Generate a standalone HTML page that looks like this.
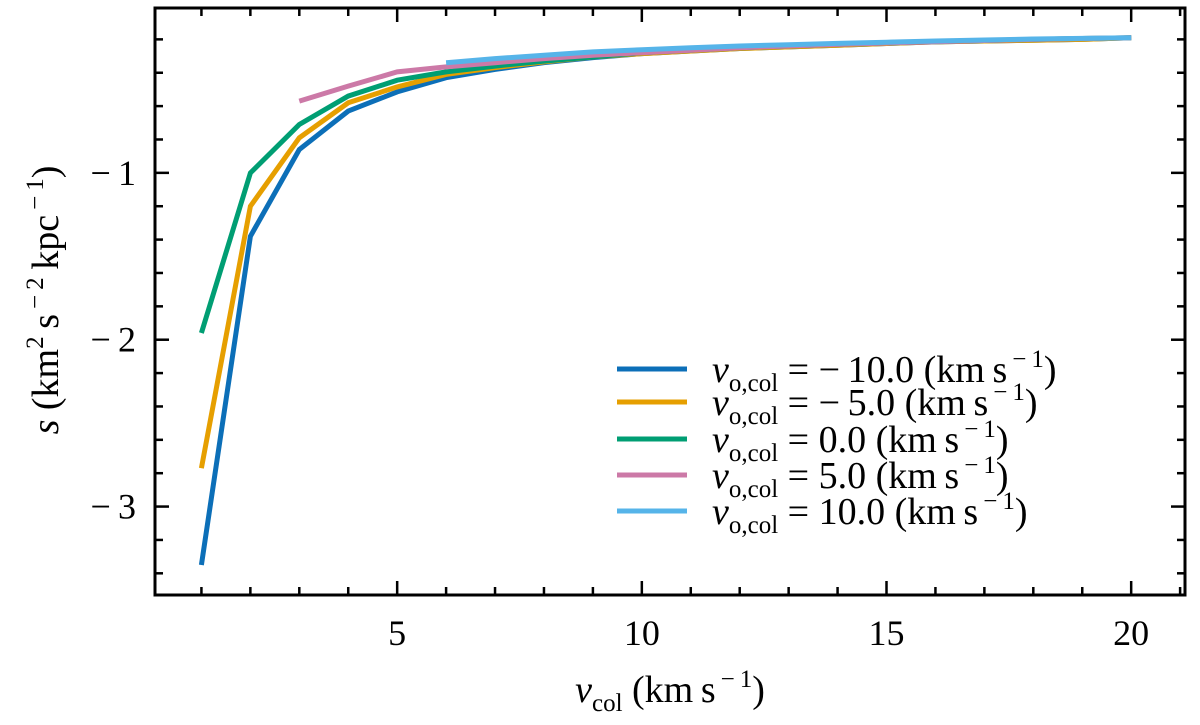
<!DOCTYPE html>
<html><head><meta charset="utf-8"><style>
html,body{margin:0;padding:0;background:#fff;}
svg text{font-family:"Liberation Serif","DejaVu Serif",serif;fill:#000;}
</style></head><body>
<svg id="chart" width="1200" height="725" viewBox="0 0 1200 725" xmlns="http://www.w3.org/2000/svg" style="position:absolute;left:0;top:0">
<g id="grid-layer"></g>
</svg>
<script>
const xs = [1,2,3,4,5,6,7,8,9,10,11,12,13,14,15,16,17,18,19,20];
const seriesLabels = ["−&#8201;10.0","−&#8201;5.0","0.0","5.0","10.0"];
const seriesColors = ["#0C6FB8","#E69F00","#009E73","#CC79A7","#56B4E9"];
const sBlue   = [-3.35,-1.38,-0.86,-0.63,-0.515,-0.43,-0.38,-0.34,-0.31,-0.285,-0.27,-0.255,-0.245,-0.235,-0.225,-0.215,-0.21,-0.205,-0.2,-0.19];
const sOrange = [-2.77,-1.2,-0.79,-0.58,-0.485,-0.41,-0.37,-0.335,-0.305,-0.285,-0.27,-0.255,-0.245,-0.235,-0.225,-0.215,-0.21,-0.205,-0.2,-0.19];
const sGreen  = [-1.96,-1.0,-0.71,-0.54,-0.445,-0.395,-0.36,-0.33,-0.305,-0.28,-0.265,-0.25,-0.24,-0.23,-0.222,-0.214,-0.207,-0.2,-0.195,-0.19];
const sPink   = [null,null,-0.57,-0.48,-0.395,-0.365,-0.34,-0.315,-0.295,-0.28,-0.265,-0.25,-0.24,-0.23,-0.222,-0.214,-0.207,-0.2,-0.195,-0.19];
const sLight  = [null,null,null,null,null,-0.34,-0.315,-0.295,-0.275,-0.262,-0.25,-0.24,-0.232,-0.224,-0.217,-0.21,-0.204,-0.198,-0.194,-0.19];
const allSeries = [sBlue,sOrange,sGreen,sPink,sLight];
const xTicks = [5,10,15,20];
const yTicks = [-1,-2,-3];

const L=155,R=1185,T=8,B=595;
const xmin=0.0511, xmax=21.1, ymin=-3.53, ymax=-0.012;
const X=v=>L+(v-xmin)/(xmax-xmin)*(R-L);
const Y=v=>T+(ymax-v)/(ymax-ymin)*(B-T);
const svg=document.getElementById('chart');
const NS='http://www.w3.org/2000/svg';
function mk(tag,attrs,parent){const e=document.createElementNS(NS,tag);for(const k in attrs)e.setAttribute(k,attrs[k]);(parent||svg).appendChild(e);return e;}

allSeries.forEach((s,i)=>{
  let d='';let started=false;
  s.forEach((v,j)=>{if(v===null)return;d+=(started?'L':'M')+X(xs[j]).toFixed(1)+','+Y(v).toFixed(1);started=true;});
  const p=mk('path',{d:d,fill:'none',stroke:seriesColors[i],'stroke-width':5,'stroke-linejoin':'miter'});
  
  
});

for(let v=1;v<=21;v++){
  const major=v%5===0, len=major?14:8;
  const a=mk('line',{x1:X(v),x2:X(v),y1:B,y2:B-len,stroke:'#000','stroke-width':2.5});
  
  
  const b=mk('line',{x1:X(v),x2:X(v),y1:T,y2:T+len,stroke:'#000','stroke-width':2.5});
  
  
}
for(let k=-17;k<=0;k++){
  const v=k*0.2; const major=Math.abs(k%5)===0; const len=major?14:8;
  if(v<ymin||v>ymax) continue;
  const a=mk('line',{x1:L,x2:L+len,y1:Y(v),y2:Y(v),stroke:'#000','stroke-width':2.5});
  
  
  const b=mk('line',{x1:R,x2:R-len,y1:Y(v),y2:Y(v),stroke:'#000','stroke-width':2.5});
  
  
}
xTicks.forEach(v=>{
  const t=mk('text',{x:X(v),y:645,'font-size':36,'text-anchor':'middle'});t.textContent=v;
  
  
});
yTicks.forEach(v=>{
  const t=mk('text',{x:136,y:Y(v)+12,'font-size':36,'text-anchor':'end'});t.innerHTML='−&#8201;'+Math.abs(v);
  
  
});
const frame=mk('rect',{x:L,y:T,width:R-L,height:B-T,fill:'none',stroke:'#000','stroke-width':3});



const legY=[369,402,439,475,511];
seriesLabels.forEach((lab,i)=>{
  const ln=mk('line',{x1:617,x2:687,y1:legY[i],y2:legY[i],stroke:seriesColors[i],'stroke-width':5});
  
  
  const t=mk('text',{x:712,y:legY[i]+13,'font-size':38});
  t.innerHTML='<tspan font-style="italic">v</tspan><tspan font-size="25" dy="9">o,col</tspan><tspan dy="-9"> = '+lab+' (km&#8201;s</tspan><tspan font-size="25" dy="-15">&#8201;−&#8201;1</tspan><tspan dy="15">)</tspan>';
  
  
});
</script>
<svg style="position:absolute;left:0;top:0" width="1200" height="725">
<text x="670" y="702" text-anchor="middle" font-size="38" font-family="Liberation Serif, serif"><tspan font-style="italic">v</tspan><tspan font-size="25" dy="9">col</tspan><tspan dy="-9"> (km&#8201;s</tspan><tspan font-size="25" dy="-15">&#8201;−&#8201;1</tspan><tspan dy="15">)</tspan></text>
<text transform="translate(58,300) rotate(-90)" text-anchor="middle" font-size="38" font-family="Liberation Serif, serif"><tspan font-style="italic">s</tspan> (km<tspan font-size="25" dy="-15">2</tspan><tspan dy="15">&#8201;s</tspan><tspan font-size="25" dy="-15">&#8201;−&#8201;2</tspan><tspan dy="15">&#8201;kpc</tspan><tspan font-size="25" dy="-15">&#8201;−&#8201;1</tspan><tspan dy="15">)</tspan></text>
</svg>
</body></html>
